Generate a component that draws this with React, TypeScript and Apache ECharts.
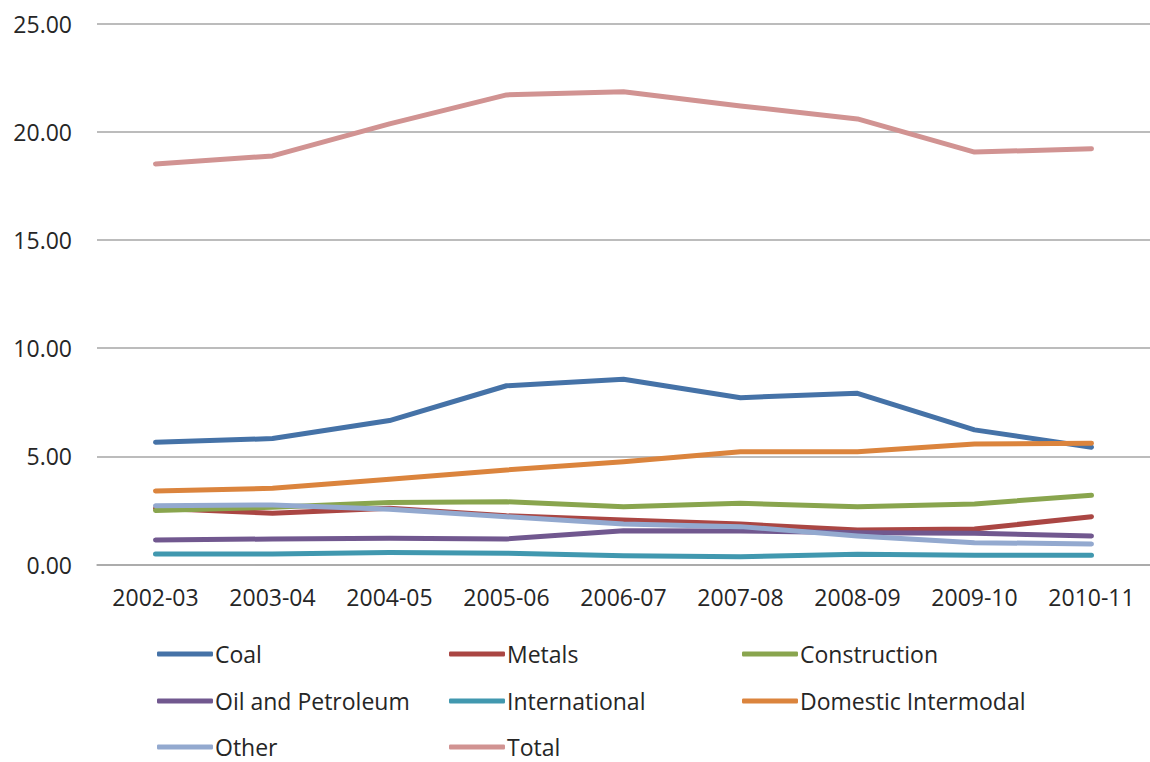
import React, { useEffect, useRef } from "react";
import * as echarts from "echarts";

// Financial years on the category axis
const years = [
  "2002-03", "2003-04", "2004-05", "2005-06", "2006-07",
  "2007-08", "2008-09", "2009-10", "2010-11",
];

// Values per commodity group, one entry per year
const coal = [5.65, 5.82, 6.65, 8.26, 8.56, 7.71, 7.91, 6.22, 5.42];
const metals = [2.6, 2.37, 2.6, 2.25, 2.06, 1.87, 1.59, 1.64, 2.21];
const construction = [2.5, 2.64, 2.87, 2.9, 2.67, 2.83, 2.67, 2.8, 3.2];
const oilAndPetroleum = [1.13, 1.18, 1.21, 1.18, 1.56, 1.55, 1.47, 1.44, 1.32];
const international = [0.49, 0.49, 0.56, 0.52, 0.41, 0.36, 0.47, 0.43, 0.43];
const domesticIntermodal = [3.4, 3.52, 3.94, 4.37, 4.75, 5.21, 5.21, 5.57, 5.6];
const other = [2.72, 2.75, 2.55, 2.21, 1.87, 1.75, 1.32, 1.01, 0.95];
const total = [18.51, 18.88, 20.36, 21.7, 21.85, 21.19, 20.59, 19.06, 19.21];

// Y-axis ticks
const yMin = 0;
const yMax = 25;
const yStep = 5;

const seriesDefs = [
  { name: "Coal", data: coal, color: "#4572A7" },
  { name: "Metals", data: metals, color: "#AA4643" },
  { name: "Construction", data: construction, color: "#89A54E" },
  { name: "Oil and Petroleum", data: oilAndPetroleum, color: "#71588F" },
  { name: "International", data: international, color: "#4198AF" },
  { name: "Domestic Intermodal", data: domesticIntermodal, color: "#DB843D" },
  { name: "Other", data: other, color: "#93A9CF" },
  { name: "Total", data: total, color: "#D19392" },
];

// Legend grid: three columns, filled row by row
const legendColumnLefts = [157, 449, 742];
const legendRowCenters = [654, 701, 747];

const FONT = "'Open Sans', 'Liberation Sans', sans-serif";
const TEXT_COLOR = "#262626";
const GRID_COLOR = "#A6A6A6";
const LEGEND_LINE_HEIGHT = 26;

export default function App() {
  const ref = useRef<HTMLDivElement>(null);

  useEffect(() => {
    if (!ref.current) return;
    const chart = echarts.init(ref.current, undefined, { renderer: "svg" });

    // One legend per entry so each sits in its own cell of the 3-column layout
    const legends = seriesDefs.map((s, i) => ({
      orient: "horizontal",
      left: legendColumnLefts[i % 3],
      top: legendRowCenters[Math.floor(i / 3)] - LEGEND_LINE_HEIGHT / 2,
      padding: 0,
      itemWidth: 56,
      itemHeight: 5,
      icon: "roundRect",
      selectedMode: false,
      data: [s.name],
      textStyle: {
        fontFamily: FONT,
        fontSize: 23,
        color: TEXT_COLOR,
        lineHeight: LEGEND_LINE_HEIGHT,
        padding: [0, 0, 0, -3],
      },
    }));

    chart.setOption({
      animation: false,
      backgroundColor: "#ffffff",
      textStyle: { fontFamily: FONT },
      grid: {
        left: 97,
        top: 23.5,
        width: 1059,
        bottom: 197.5,
        containLabel: false,
      },
      legend: legends,
      xAxis: {
        type: "category",
        data: years,
        boundaryGap: true,
        axisLine: { show: true, lineStyle: { color: GRID_COLOR, width: 1.5 } },
        axisTick: { show: false },
        axisLabel: {
          fontFamily: FONT,
          fontSize: 23,
          color: TEXT_COLOR,
          margin: 21,
        },
      },
      yAxis: {
        type: "value",
        min: yMin,
        max: yMax,
        interval: yStep,
        axisLine: { show: false },
        axisTick: { show: false },
        splitLine: { lineStyle: { color: GRID_COLOR, width: 1.5 } },
        axisLabel: {
          fontFamily: FONT,
          fontSize: 23,
          color: TEXT_COLOR,
          margin: 25,
          formatter: (v: number) => v.toFixed(2),
        },
      },
      series: seriesDefs.map((s) => ({
        name: s.name,
        type: "line",
        data: s.data,
        symbol: "none",
        showSymbol: false,
        color: s.color,
        lineStyle: { color: s.color, width: 5, cap: "round", join: "round" },
        emphasis: { disabled: true },
      })),
    });

    return () => chart.dispose();
  }, []);

  return (
    <div
      ref={ref}
      style={{ position: "fixed", left: 0, top: 0, width: 1150, height: 762, background: "#fff" }}
    />
  );
}
